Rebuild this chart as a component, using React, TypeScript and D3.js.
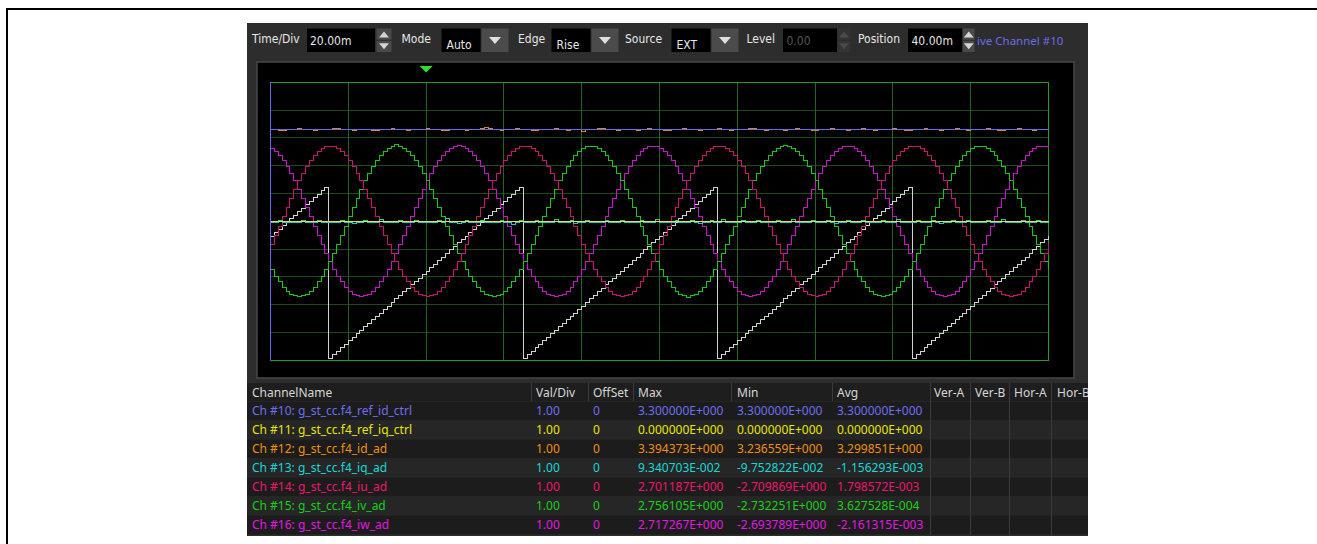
import React from 'react';
import * as d3 from 'd3';

// ---- scope sample data (1 ms per sample, first sample at -40 ms) ----
const sampleStartMs = -40;

const angleTrace = [
  -0.53,-0.41,-0.28,-0.15,-0.03,0.10,0.22,0.35,0.47,0.60,0.73,0.85,0.98,1.10,1.23,
  -4.93,-4.80,-4.68,-4.55,-4.43,-4.30,-4.18,-4.05,-3.92,-3.80,-3.67,-3.55,-3.42,-3.30,-3.17,-3.05,-2.92,-2.79,-2.67,-2.54,-2.42,-2.29,-2.17,-2.04,-1.91,
  -1.79,-1.66,-1.54,-1.41,-1.29,-1.16,-1.03,-0.91,-0.78,-0.66,-0.53,-0.41,-0.28,-0.15,-0.03,0.10,0.22,0.35,0.47,0.60,0.73,0.85,0.98,1.10,1.23,
  -4.93,-4.80,-4.68,-4.55,-4.43,-4.30,-4.18,-4.05,-3.92,-3.80,-3.67,-3.55,-3.42,-3.30,-3.17,-3.05,-2.92,-2.79,-2.67,-2.54,-2.42,-2.29,-2.17,-2.04,-1.91,
  -1.79,-1.66,-1.54,-1.41,-1.29,-1.16,-1.03,-0.91,-0.78,-0.66,-0.53,-0.41,-0.28,-0.15,-0.03,0.10,0.22,0.35,0.47,0.60,0.73,0.85,0.98,1.10,1.23,
  -4.93,-4.80,-4.68,-4.55,-4.43,-4.30,-4.18,-4.05,-3.92,-3.80,-3.67,-3.55,-3.42,-3.30,-3.17,-3.05,-2.92,-2.79,-2.67,-2.54,-2.42,-2.29,-2.17,-2.04,-1.91,
  -1.79,-1.66,-1.54,-1.41,-1.29,-1.16,-1.03,-0.91,-0.78,-0.66,-0.53,-0.41,-0.28,-0.15,-0.03,0.10,0.22,0.35,0.47,0.60,0.73,0.85,0.98,1.10,1.23,
  -4.93,-4.80,-4.68,-4.55,-4.43,-4.30,-4.18,-4.05,-3.92,-3.80,-3.67,-3.55,-3.42,-3.30,-3.17,-3.05,-2.92,-2.79,-2.67,-2.54,-2.42,-2.29,-2.17,-2.04,-1.91,
  -1.79,-1.66,-1.54,-1.41,-1.29,-1.16,-1.03,-0.91,-0.78,-0.66,-0.53,
];

const refIdCtrl = Array(201).fill(3.3); // ch10 constant
const refIqCtrl = Array(201).fill(0); // ch11 constant

const idAd = [
  3.30,3.30,3.27,3.27,3.30,3.30,3.30,3.33,3.30,3.30,3.30,3.26,3.30,3.30,3.30,3.30,3.33,3.33,3.30,3.30,
  3.30,3.27,3.30,3.30,3.30,3.30,3.26,3.26,3.30,3.30,3.30,3.33,3.30,3.30,3.30,3.27,3.30,3.30,3.30,3.30,
  3.33,3.30,3.30,3.30,3.27,3.27,3.30,3.30,3.30,3.30,3.26,3.30,3.30,3.30,3.33,3.39,3.34,3.30,3.30,3.27,
  3.30,3.30,3.30,3.33,3.30,3.30,3.30,3.26,3.26,3.30,3.30,3.30,3.30,3.33,3.30,3.30,3.27,3.30,3.30,3.30,
  3.24,3.30,3.30,3.30,3.33,3.33,3.30,3.30,3.30,3.27,3.30,3.30,3.30,3.30,3.26,3.30,3.30,3.33,3.30,3.30,
  3.30,3.27,3.27,3.30,3.30,3.30,3.33,3.30,3.30,3.30,3.26,3.30,3.30,3.30,3.30,3.33,3.30,3.30,3.27,3.30,
  3.30,3.30,3.30,3.33,3.33,3.30,3.30,3.26,3.30,3.30,3.30,3.30,3.27,3.30,3.30,3.33,3.30,3.30,3.30,3.26,
  3.26,3.30,3.30,3.30,3.33,3.30,3.30,3.30,3.27,3.30,3.30,3.30,3.33,3.30,3.30,3.26,3.30,3.30,3.30,3.30,
  3.33,3.30,3.30,3.27,3.27,3.30,3.30,3.30,3.33,3.30,3.30,3.30,3.26,3.30,3.30,3.30,3.33,3.30,3.30,3.27,
  3.30,3.30,3.30,3.30,3.33,3.30,3.30,3.26,3.26,3.30,3.30,3.30,3.33,3.30,3.30,3.30,3.27,3.30,3.30,3.30,
  3.30,
];

const iqAd = [
  -0.03,-0.03,0.03,-0.03,-0.03,-0.06,-0.03,-0.03,0.04,-0.03,-0.03,-0.03,0.03,-0.03,-0.06,-0.03,-0.03,-0.03,0.04,-0.03,
  -0.03,-0.07,-0.03,-0.03,0.03,-0.03,-0.03,-0.03,0.05,-0.03,-0.03,-0.06,-0.03,0.03,-0.03,-0.03,-0.03,0.04,-0.03,-0.03,
  -0.06,-0.03,-0.03,0.03,-0.03,0.09,-0.03,-0.03,-0.07,-0.03,0.03,-0.03,-0.03,-0.03,0.04,-0.03,-0.06,-0.03,-0.03,0.03,
  -0.03,-0.03,-0.10,-0.03,0.04,-0.03,-0.03,-0.03,0.03,-0.03,-0.06,-0.03,-0.03,0.05,-0.03,-0.03,-0.03,0.03,-0.07,-0.03,
  -0.03,0.04,-0.03,-0.03,-0.06,-0.03,0.03,-0.03,-0.03,-0.03,0.04,-0.03,-0.06,-0.03,-0.03,0.03,-0.03,-0.03,-0.03,0.05,
  -0.03,-0.06,-0.03,-0.03,0.03,-0.03,-0.03,-0.03,0.04,-0.03,-0.07,-0.03,-0.03,0.03,-0.03,-0.03,0.08,-0.03,-0.03,-0.06,
  -0.03,0.03,-0.03,-0.03,-0.03,0.04,-0.03,-0.06,-0.03,-0.03,0.03,-0.03,-0.03,-0.03,0.05,-0.03,-0.06,-0.03,-0.03,0.03,
  -0.03,-0.03,-0.03,0.04,-0.03,-0.07,-0.03,-0.03,0.03,-0.03,-0.03,-0.03,0.04,-0.03,-0.06,-0.03,-0.03,0.03,-0.03,-0.03,
  -0.03,0.05,-0.03,-0.06,-0.03,-0.03,0.03,-0.03,-0.03,-0.03,0.04,-0.03,-0.07,-0.03,-0.03,0.03,-0.03,-0.03,-0.03,0.04,
  -0.03,-0.06,-0.03,-0.03,0.03,-0.03,-0.03,-0.03,0.05,-0.03,-0.06,-0.03,-0.03,0.03,-0.03,-0.03,-0.03,0.04,-0.03,-0.03,
  -0.03,
];

const iuAd = [
  -0.83,-0.51,-0.17,0.17,0.51,0.83,1.15,1.45,1.72,1.97,2.18,2.37,2.51,2.62,2.68,
  2.70,2.68,2.62,2.51,2.37,2.18,1.97,1.72,1.45,1.15,0.83,0.51,0.17,-0.17,-0.51,-0.83,-1.15,-1.45,-1.72,-1.97,-2.18,-2.37,-2.51,-2.62,-2.68,
  -2.71,-2.68,-2.62,-2.51,-2.37,-2.18,-1.97,-1.72,-1.45,-1.15,-0.83,-0.51,-0.17,0.17,0.51,0.83,1.15,1.45,1.72,1.97,2.18,2.37,2.51,2.62,2.68,
  2.69,2.68,2.62,2.51,2.37,2.18,1.97,1.72,1.45,1.15,0.83,0.51,0.17,-0.17,-0.51,-0.83,-1.15,-1.45,-1.72,-1.97,-2.18,-2.37,-2.51,-2.62,-2.68,
  -2.70,-2.68,-2.62,-2.51,-2.37,-2.18,-1.97,-1.72,-1.45,-1.15,-0.83,-0.51,-0.17,0.17,0.51,0.83,1.15,1.45,1.72,1.97,2.18,2.37,2.51,2.62,2.68,
  2.70,2.68,2.62,2.51,2.37,2.18,1.97,1.72,1.45,1.15,0.83,0.51,0.17,-0.17,-0.51,-0.83,-1.15,-1.45,-1.72,-1.97,-2.18,-2.37,-2.51,-2.62,-2.68,
  -2.70,-2.68,-2.62,-2.51,-2.37,-2.18,-1.97,-1.72,-1.45,-1.15,-0.83,-0.51,-0.17,0.17,0.51,0.83,1.15,1.45,1.72,1.97,2.18,2.37,2.51,2.62,2.68,
  2.70,2.68,2.62,2.51,2.37,2.18,1.97,1.72,1.45,1.15,0.83,0.51,0.17,-0.17,-0.51,-0.83,-1.15,-1.45,-1.72,-1.97,-2.18,-2.37,-2.51,-2.62,-2.68,
  -2.70,-2.68,-2.62,-2.51,-2.37,-2.18,-1.97,-1.72,-1.45,-1.15,-0.83,
];

const ivAd = [
  -1.72,-1.97,-2.18,-2.37,-2.51,-2.62,-2.68,-2.70,-2.68,-2.62,-2.51,-2.37,-2.18,-1.97,-1.72,-1.45,-1.15,-0.83,-0.51,-0.17,0.17,0.51,0.83,1.15,1.45,1.72,1.97,2.18,2.37,2.51,2.62,2.68,
  2.76,2.70,2.62,2.51,2.37,2.18,1.97,1.72,1.45,1.15,0.83,0.51,0.17,-0.17,-0.51,-0.83,-1.15,-1.45,-1.72,-1.97,-2.18,-2.37,-2.51,-2.62,-2.68,
  -2.70,-2.68,-2.62,-2.51,-2.37,-2.18,-1.97,-1.72,-1.45,-1.15,-0.83,-0.51,-0.17,0.17,0.51,0.83,1.15,1.45,1.72,1.97,2.18,2.37,2.51,2.62,2.68,
  2.70,2.68,2.62,2.51,2.37,2.18,1.97,1.72,1.45,1.15,0.83,0.51,0.17,-0.17,-0.51,-0.83,-1.15,-1.45,-1.72,-1.97,-2.18,-2.37,-2.51,-2.62,-2.68,
  -2.73,-2.68,-2.62,-2.51,-2.37,-2.18,-1.97,-1.72,-1.45,-1.15,-0.83,-0.51,-0.17,0.17,0.51,0.83,1.15,1.45,1.72,1.97,2.18,2.37,2.51,2.62,2.68,
  2.72,2.68,2.62,2.51,2.37,2.18,1.97,1.72,1.45,1.15,0.83,0.51,0.17,-0.17,-0.51,-0.83,-1.15,-1.45,-1.72,-1.97,-2.18,-2.37,-2.51,-2.62,-2.68,
  -2.70,-2.68,-2.62,-2.51,-2.37,-2.18,-1.97,-1.72,-1.45,-1.15,-0.83,-0.51,-0.17,0.17,0.51,0.83,1.15,1.45,1.72,1.97,2.18,2.37,2.51,2.62,2.68,
  2.70,2.68,2.62,2.51,2.37,2.18,1.97,1.72,1.45,1.15,0.83,0.51,0.17,-0.17,-0.51,-0.83,-1.15,-1.45,-1.72,
];

const iwAd = [
  2.62,2.51,2.37,2.18,1.97,1.72,1.45,1.15,0.83,0.51,0.17,-0.17,-0.51,-0.83,-1.15,-1.45,-1.72,-1.97,-2.18,-2.37,-2.51,-2.62,-2.68,-2.69,
  -2.68,-2.62,-2.51,-2.37,-2.18,-1.97,-1.72,-1.45,-1.15,-0.83,-0.51,-0.17,0.17,0.51,0.83,1.15,1.45,1.72,1.97,2.18,2.37,2.51,2.62,2.68,
  2.72,2.68,2.62,2.51,2.37,2.18,1.97,1.72,1.45,1.15,0.83,0.51,0.17,-0.17,-0.51,-0.83,-1.15,-1.45,-1.72,-1.97,-2.18,-2.37,-2.51,-2.62,-2.68,
  -2.69,-2.68,-2.62,-2.51,-2.37,-2.18,-1.97,-1.72,-1.45,-1.15,-0.83,-0.51,-0.17,0.17,0.51,0.83,1.15,1.45,1.72,1.97,2.18,2.37,2.51,2.62,2.68,
  2.70,2.68,2.62,2.51,2.37,2.18,1.97,1.72,1.45,1.15,0.83,0.51,0.17,-0.17,-0.51,-0.83,-1.15,-1.45,-1.72,-1.97,-2.18,-2.37,-2.51,-2.62,-2.68,
  -2.69,-2.68,-2.62,-2.51,-2.37,-2.18,-1.97,-1.72,-1.45,-1.15,-0.83,-0.51,-0.17,0.17,0.51,0.83,1.15,1.45,1.72,1.97,2.18,2.37,2.51,2.62,2.68,
  2.70,2.68,2.62,2.51,2.37,2.18,1.97,1.72,1.45,1.15,0.83,0.51,0.17,-0.17,-0.51,-0.83,-1.15,-1.45,-1.72,-1.97,-2.18,-2.37,-2.51,-2.62,-2.68,
  -2.69,-2.68,-2.62,-2.51,-2.37,-2.18,-1.97,-1.72,-1.45,-1.15,-0.83,-0.51,-0.17,0.17,0.51,0.83,1.15,1.45,1.72,1.97,2.18,2.37,2.51,2.62,2.68,
  2.70,2.68,2.62,
];

// ---- channel table ----
const channelNames = [
  'Ch #10: g_st_cc.f4_ref_id_ctrl',
  'Ch #11: g_st_cc.f4_ref_iq_ctrl',
  'Ch #12: g_st_cc.f4_id_ad',
  'Ch #13: g_st_cc.f4_iq_ad',
  'Ch #14: g_st_cc.f4_iu_ad',
  'Ch #15: g_st_cc.f4_iv_ad',
  'Ch #16: g_st_cc.f4_iw_ad',
];
const valPerDiv = ['1.00', '1.00', '1.00', '1.00', '1.00', '1.00', '1.00'];
const offsets = ['0', '0', '0', '0', '0', '0', '0'];
const maxValues = ['3.300000E+000', '0.000000E+000', '3.394373E+000', '9.340703E-002', '2.701187E+000', '2.756105E+000', '2.717267E+000'];
const minValues = ['3.300000E+000', '0.000000E+000', '3.236559E+000', '-9.752822E-002', '-2.709869E+000', '-2.732251E+000', '-2.693789E+000'];
const avgValues = ['3.300000E+000', '0.000000E+000', '3.299851E+000', '-1.156293E-003', '1.798572E-003', '3.627528E-004', '-2.161315E-003'];
const headers = ['ChannelName', 'Val/Div', 'OffSet', 'Max', 'Min', 'Avg', 'Ver-A', 'Ver-B', 'Hor-A', 'Hor-B'];

const textColors = ['#6e6ef0', '#e6e600', '#f0900a', '#14d8d8', '#f0146e', '#14d214', '#e614e6'];
const traceColors = ['#6a6aec', '#e6e632', '#d88a1e', '#1ec8c8', '#c8146e', '#14c814', '#c814c8'];
const angleColor = '#d2d2d2';

const FONT = '"Noto Sans", "Open Sans", sans-serif';
const NARROW = '"Liberation Sans Narrow", "DejaVu Sans Condensed", sans-serif';

function Spinner({ x, y, w, h, disabled }: { x: number; y: number; w: number; h: number; disabled?: boolean }) {
  const cx = x + w / 2;
  const tri = disabled ? '#4a4a4a' : '#d4d4d4';
  return (
    <g>
      <rect x={x} y={y} width={w} height={h / 2 - 0.5} fill={disabled ? '#333' : '#4a4a4a'} />
      <rect x={x} y={y + h / 2 + 0.5} width={w} height={h / 2 - 0.5} fill={disabled ? '#333' : '#4a4a4a'} />
      <path d={`M${cx - 5},${y + h / 4 + 3} L${cx + 5},${y + h / 4 + 3} L${cx},${y + h / 4 - 3} Z`} fill={tri} />
      <path d={`M${cx - 5},${y + (3 * h) / 4 - 3} L${cx + 5},${y + (3 * h) / 4 - 3} L${cx},${y + (3 * h) / 4 + 3} Z`} fill={tri} />
    </g>
  );
}

function Combo({ x, label }: { x: number; label: string }) {
  return (
    <g>
      <rect x={x} y={28.5} width={39} height={23.5} fill="#000" />
      <text x={x + 5} y={49} fill="#e8e8e8" fontSize={12} fontFamily={NARROW}>{label}</text>
      <rect x={x + 40} y={28.5} width={27} height={23.5} fill="#4b4b4b" />
      <path d={`M${x + 47.5},${37} L${x + 59.5},${37} L${x + 53.5},${44} Z`} fill="#e0e0e0" />
    </g>
  );
}

export default function App() {
  const x = d3.scaleLinear().domain([-40, 160]).range([270.5, 1048.5]);
  const y = d3.scaleLinear().domain([-5, 5]).range([360.3, 82.3]);

  const line = d3
    .line<number>()
    .x((_, i) => x(sampleStartMs + i))
    .y((v) => y(v))
    .curve(d3.curveStepAfter);

  // drawn back to front: angle, ch16 ... ch10
  const traces: [number[], string][] = [
    [angleTrace, angleColor],
    [iwAd, traceColors[6]],
    [ivAd, traceColors[5]],
    [iuAd, traceColors[4]],
    [iqAd, traceColors[3]],
    [idAd, traceColors[2]],
    [refIqCtrl, traceColors[1]],
    [refIdCtrl, traceColors[0]],
  ];

  const vLines = d3.range(-20, 160, 20);
  const hLines = d3.range(-4, 5, 1);

  const colX = [252, 536, 593, 638, 737, 837, 934, 975, 1014, 1057];
  const sepX = [531, 588.5, 633.5, 731.5, 832.5, 930, 970, 1009.5, 1051.5];
  const rowTop = 401.5;
  const rowH = 19;

  return (
    <div style={{ position: 'absolute', left: 0, top: 0 }}>
      <svg width={1317} height={544} style={{ display: 'block', background: '#fff' }}>
        <defs>
          <clipPath id="panelClip">
            <rect x={247} y={23} width={841} height={513} />
          </clipPath>
          <clipPath id="plotClip">
            <rect x={270} y={80} width={780} height={283} />
          </clipPath>
        </defs>

        {/* outer frame of the screenshot */}
        <path d="M7,544 V9 H1317" fill="none" stroke="#000" strokeWidth={2} />

        {/* app panel */}
        <rect x={247} y={23} width={841} height={513} fill="#2d2d2d" />

        {/* toolbar */}
        <g fontFamily={NARROW} fontSize={12} fill="#e6e6e6">
          <text x={252} y={43}>Time/Div</text>
          <rect x={307} y={28.5} width={68} height={23.5} fill="#000" />
          <text x={310} y={44.5}>20.00m</text>
          <Spinner x={376.5} y={28.5} w={15} h={23.5} />
          <text x={401.5} y={43}>Mode</text>
          <Combo x={441.5} label="Auto" />
          <text x={518} y={43}>Edge</text>
          <Combo x={551.5} label="Rise" />
          <text x={625} y={43}>Source</text>
          <Combo x={671.5} label="EXT" />
          <text x={746.5} y={43}>Level</text>
          <rect x={783} y={28.5} width={54} height={23.5} fill="#000" />
          <text x={786.5} y={44.5} fill="#555">0.00</text>
          <Spinner x={838} y={28.5} w={12} h={23.5} disabled />
          <text x={858} y={43}>Position</text>
          <rect x={908} y={28.5} width={54} height={23.5} fill="#000" />
          <text x={911.5} y={44.5}>40.00m</text>
          <Spinner x={963} y={28.5} w={11.5} h={23.5} />
          <text x={977} y={44.5} fill="#6b6bea" fontFamily={FONT} fontSize={11.5}>ive Channel #10</text>
        </g>

        {/* scope screen */}
        <rect x={257} y={62} width={817} height={316} fill="#000" stroke="#474747" strokeWidth={1.5} />
        <g shapeRendering="crispEdges">
          {hLines.map((v) => (
            <line key={'h' + v} x1={x(-40)} x2={x(160)} y1={y(v)} y2={y(v)} stroke="#1d4a1d" strokeWidth={1} />
          ))}
          {vLines.map((t) => (
            <line key={'v' + t} x1={x(t)} x2={x(t)} y1={y(5)} y2={y(-5)} stroke="#226422" strokeWidth={1} />
          ))}
          <rect x={x(-40)} y={y(5)} width={x(160) - x(-40)} height={y(-5) - y(5)} fill="none" stroke="#1fa01f" strokeWidth={1} />
        </g>
        <g clipPath="url(#plotClip)" shapeRendering="crispEdges" fill="none">
          {traces.map(([vals, color], k) => (
            <path key={k} d={line(vals) || ''} stroke={color} strokeWidth={1} />
          ))}
        </g>
        <line x1={x(-40)} x2={x(-40)} y1={y(5)} y2={y(-5)} stroke="#6666e8" strokeWidth={1.5} shapeRendering="crispEdges" />
        {/* trigger position marker */}
        <path d={`M${x(0) - 6.5},66 L${x(0) + 6.5},66 L${x(0)},72.5 Z`} fill="#2ee02e" />

        {/* channel table */}
        <g clipPath="url(#panelClip)" fontFamily={FONT} fontSize={12}>
          <rect x={247} y={383} width={841} height={18} fill="#1e1e1e" />
          {channelNames.map((_, r) => (
            <rect key={'bg' + r} x={247} y={rowTop + r * rowH} width={841} height={rowH} fill={r % 2 === 0 ? '#1c1c1c' : '#262626'} />
          ))}
          {sepX.map((sx, k) => (
            <line key={'s' + k} x1={sx} x2={sx} y1={383} y2={k >= 5 ? 535 : 401} stroke="#3b3b3b" strokeWidth={1} shapeRendering="crispEdges" />
          ))}
          {headers.map((h, k) => (
            <text key={h} x={colX[k]} y={396.5} fill="#d6d6d6">{h}</text>
          ))}
          {channelNames.map((name, r) => {
            const by = rowTop + r * rowH + 13.5;
            const c = textColors[r];
            return (
              <g key={name} fill={c}>
                <text x={colX[0]} y={by}>{name}</text>
                <text x={colX[1]} y={by}>{valPerDiv[r]}</text>
                <text x={colX[2]} y={by}>{offsets[r]}</text>
                <text x={colX[3]} y={by}>{maxValues[r]}</text>
                <text x={colX[4]} y={by}>{minValues[r]}</text>
                <text x={colX[5]} y={by}>{avgValues[r]}</text>
              </g>
            );
          })}
        </g>
      </svg>
    </div>
  );
}
